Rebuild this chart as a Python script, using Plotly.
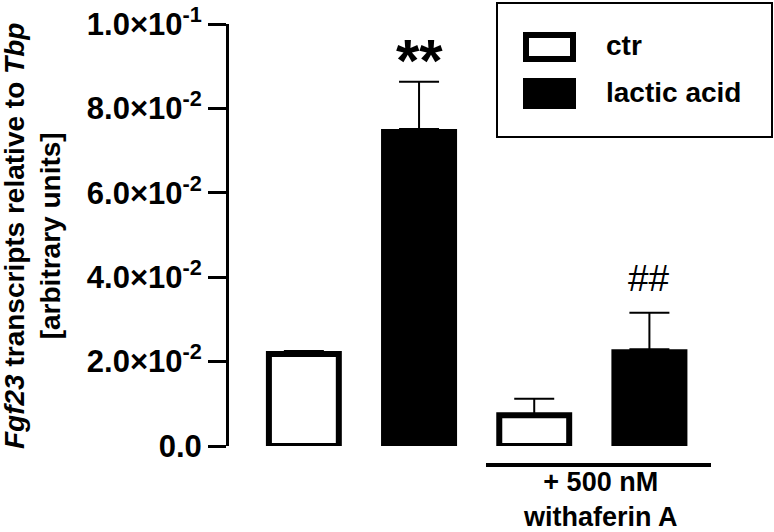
import plotly.graph_objects as go

# groups on the x axis (left to right)
groups = ["ctr", "lactic acid", "ctr + withaferin A", "lactic acid + withaferin A"]

# mean values and SEM
ctr_x = ["ctr", "ctr + withaferin A"]
ctr_mean = [0.0218, 0.0073]
ctr_sem = [0.0007, 0.0039]

lactic_x = ["lactic acid", "lactic acid + withaferin A"]
lactic_mean = [0.0751, 0.0229]
lactic_sem = [0.0112, 0.0087]

y_ticks = [0.0, 0.02, 0.04, 0.06, 0.08, 0.10]
y_ticktext = ["0.0", "2.0×10<sup>-2</sup>", "4.0×10<sup>-2</sup>",
              "6.0×10<sup>-2</sup>", "8.0×10<sup>-2</sup>", "1.0×10<sup>-1</sup>"]

FONT = "Liberation Sans, Arial, sans-serif"
W, H = 774, 532
L, R, T, B = 229, 67, 24, 86


def px(x):
    # pixel x -> paper x
    return (x - L) / (W - L - R)


def py(y):
    # pixel y -> paper y
    return (H - B - y) / (H - B - T)


fig = go.Figure()

fig.add_trace(go.Bar(
    x=ctr_x, y=ctr_mean, name="ctr", width=0.607,
    marker=dict(color="white", line=dict(color="black", width=6)),
    error_y=dict(type="data", array=ctr_sem, arrayminus=[0, 0], symmetric=False,
                 color="black", thickness=2, width=20),
))
fig.add_trace(go.Bar(
    x=lactic_x, y=lactic_mean, name="lactic acid", width=0.66,
    marker=dict(color="black", line=dict(width=0)),
    error_y=dict(type="data", array=lactic_sem, arrayminus=[0, 0], symmetric=False,
                 color="black", thickness=2, width=20),
))

# significance marks
fig.add_annotation(x="lactic acid", y=lactic_mean[0] + lactic_sem[0], text="<b>**</b>",
                   showarrow=False, yanchor="bottom", yshift=-14,
                   font=dict(family=FONT, size=60, color="black"))
fig.add_annotation(x="lactic acid + withaferin A", y=lactic_mean[1] + lactic_sem[1], text="##",
                   showarrow=False, yanchor="bottom", yshift=12,
                   font=dict(family=FONT, size=37, color="black"))

# treatment bracket
fig.add_shape(type="line", xref="paper", yref="paper", x0=px(486), x1=px(711),
              y0=py(465), y1=py(465), line=dict(color="black", width=4))
fig.add_annotation(xref="paper", yref="paper", x=px(600), y=py(500), text="<b>+ 500 nM<br>withaferin A</b>",
                   showarrow=False, xanchor="center", yanchor="middle",
                   font=dict(family=FONT, size=27, color="black"))

# y title
fig.add_annotation(xref="paper", yref="paper", x=px(32), y=py(236),
                   text="<b><i>Fgf23</i> transcripts relative to <i>Tbp</i><br>[arbitrary units]</b>",
                   textangle=-90, showarrow=False, xanchor="center", yanchor="middle",
                   font=dict(family=FONT, size=28, color="black"))

# hand-drawn legend (large swatches)
fig.add_shape(type="rect", xref="paper", yref="paper", x0=px(497), x1=px(772), y0=py(137), y1=py(3),
              line=dict(color="black", width=2), fillcolor="white")
fig.add_shape(type="rect", xref="paper", yref="paper", x0=px(526), x1=px(573), y0=py(59), y1=py(35),
              line=dict(color="black", width=6), fillcolor="white")
fig.add_shape(type="rect", xref="paper", yref="paper", x0=px(523), x1=px(576), y0=py(109), y1=py(78),
              line=dict(width=0), fillcolor="black")
fig.add_annotation(xref="paper", yref="paper", x=px(604), y=py(46), text="<b>ctr</b>",
                   showarrow=False, xanchor="left", yanchor="middle",
                   font=dict(family=FONT, size=28, color="black"))
fig.add_annotation(xref="paper", yref="paper", x=px(604), y=py(93), text="<b>lactic acid</b>",
                   showarrow=False, xanchor="left", yanchor="middle",
                   font=dict(family=FONT, size=28, color="black"))

fig.update_layout(
    width=W, height=H,
    margin=dict(l=L, r=R, t=T, b=B, pad=0, autoexpand=False),
    plot_bgcolor="white", paper_bgcolor="white",
    barmode="overlay", showlegend=False,
    font=dict(family=FONT, color="black"),
)
fig.update_xaxes(type="category", categoryorder="array", categoryarray=groups,
                 range=[-0.65, 3.5], visible=False)
fig.update_yaxes(range=[0, 0.1], tickvals=y_ticks, ticktext=y_ticktext,
                 showline=True, linecolor="black", linewidth=3, automargin=False,
                 ticks="outside", ticklen=18, tickwidth=3, tickcolor="black",
                 showgrid=False, zeroline=False,
                 tickfont=dict(family=FONT, size=31, color="black", weight="bold"))

# drop the default page margin so the figure sits at the window origin
fig.write_html("out.html", config={"displayModeBar": False},
               post_script="document.body.style.margin='0';")
